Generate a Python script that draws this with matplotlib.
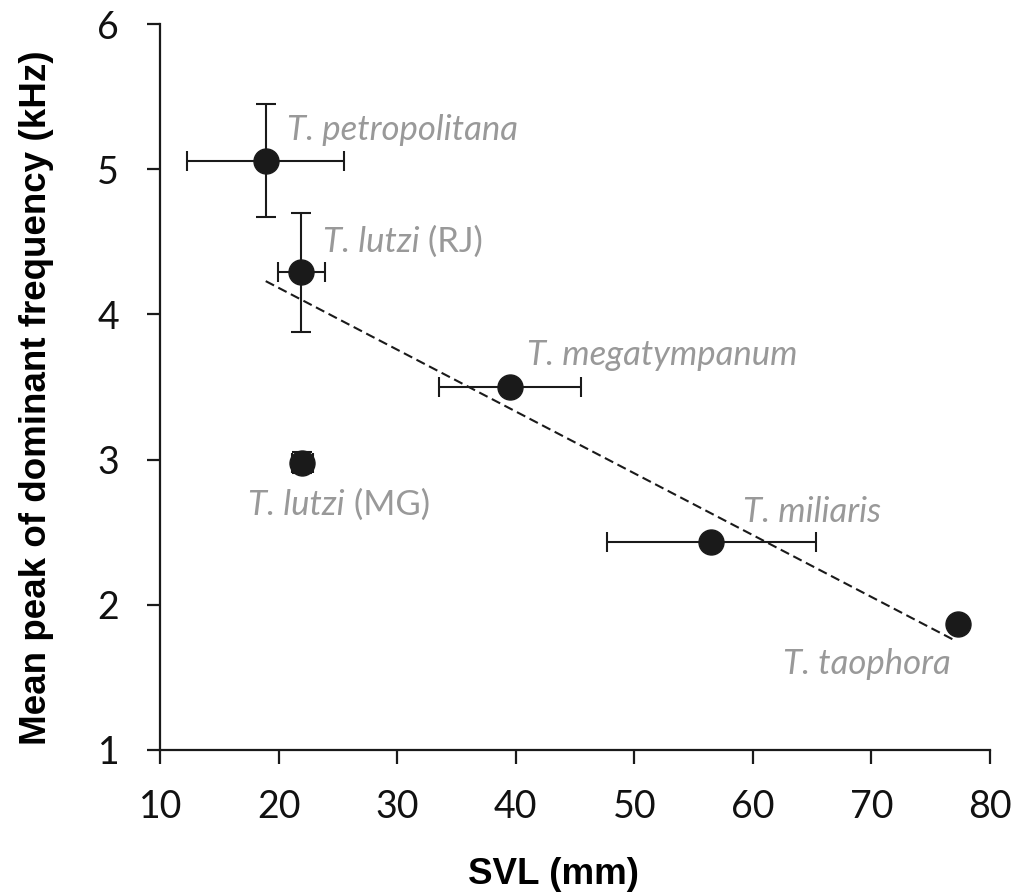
import numpy as np
import matplotlib
matplotlib.use("Agg")
import matplotlib.pyplot as plt

# species means (SVL in mm, peak frequency in kHz) with SD
species = ["T. petropolitana", "T. lutzi", "T. megatympanum", "T. lutzi", "T. miliaris", "T. taophora"]
suffix = ["", "(RJ)", "", "(MG)", "", ""]
svl = [18.9, 21.9, 39.5, 22.0, 56.5, 77.3]
svl_sd = [6.6, 2.0, 6.0, 0.9, 8.8, 0.0]
freq = [5.06, 4.29, 3.50, 2.98, 2.43, 1.87]
freq_sd = [0.39, 0.41, 0.0, 0.075, 0.0, 0.0]

# label anchor points (left edge, vertical centre)
label_x = [20.7, 23.7, 40.9, 17.4, 59.2, 62.5]
label_y = [5.27, 4.50, 3.72, 2.69, 2.64, 1.59]

# regression line end points
trend_x = [18.9, 76.9]
trend_y = [4.23, 1.76]

BOLD_FAMILY = "Liberation Sans"
TICK_FAMILY = "Lato"
NAME_FAMILY = "Lato"
LABEL_GREY = "#999999"
INK = "#1a1a1a"

fig = plt.figure(figsize=(10.27, 8.96), dpi=100)
ax = fig.add_axes([0.156, 0.163, 0.808, 0.81])

ax.plot(trend_x, trend_y, linestyle=(0, (4.5, 2.3)), color=INK, lw=1.5, zorder=2)

for i in range(len(svl)):
    ax.errorbar(svl[i], freq[i],
                xerr=svl_sd[i] if svl_sd[i] > 0 else None,
                yerr=freq_sd[i] if freq_sd[i] > 0 else None,
                fmt="o", ms=18, color=INK, ecolor=INK,
                elinewidth=1.5, capsize=7, capthick=1.5, zorder=3)

for i in range(len(species)):
    t = ax.text(label_x[i], label_y[i], species[i], fontsize=25, color=LABEL_GREY,
                ha="left", va="center", family=NAME_FAMILY, style="italic", zorder=4)
    if suffix[i]:
        ax.annotate(" " + suffix[i], xy=(1, 0.5), xycoords=t, fontsize=25,
                    color=LABEL_GREY, ha="left", va="center", family=NAME_FAMILY, zorder=4)

ax.set_xlim(10, 80)
ax.set_ylim(1, 6)
ax.set_xticks(np.arange(10, 81, 10))
ax.set_yticks(np.arange(1, 7, 1))

for side in ["top", "right"]:
    ax.spines[side].set_visible(False)
for side in ["left", "bottom"]:
    ax.spines[side].set_linewidth(1.6)
    ax.spines[side].set_color(INK)

ax.tick_params(axis="x", direction="out", length=10, width=1.6, color=INK,
               labelsize=27, pad=18)
ax.tick_params(axis="y", direction="out", length=9.5, width=1.6, color=INK,
               labelsize=27, pad=20)
for lab in ax.get_xticklabels() + ax.get_yticklabels():
    lab.set_family(TICK_FAMILY)
    lab.set_color("#111111")

ax.set_xlabel("SVL (mm)", fontsize=26.5, fontweight="bold", family=BOLD_FAMILY)
ax.set_ylabel("Mean peak of dominant frequency (kHz)", fontsize=26.5, fontweight="bold",
              family=BOLD_FAMILY)
ax.xaxis.set_label_coords(0.4735, -0.147)
ax.yaxis.set_label_coords(-0.128, 0.485)

fig.savefig("out.png", dpi=100)
